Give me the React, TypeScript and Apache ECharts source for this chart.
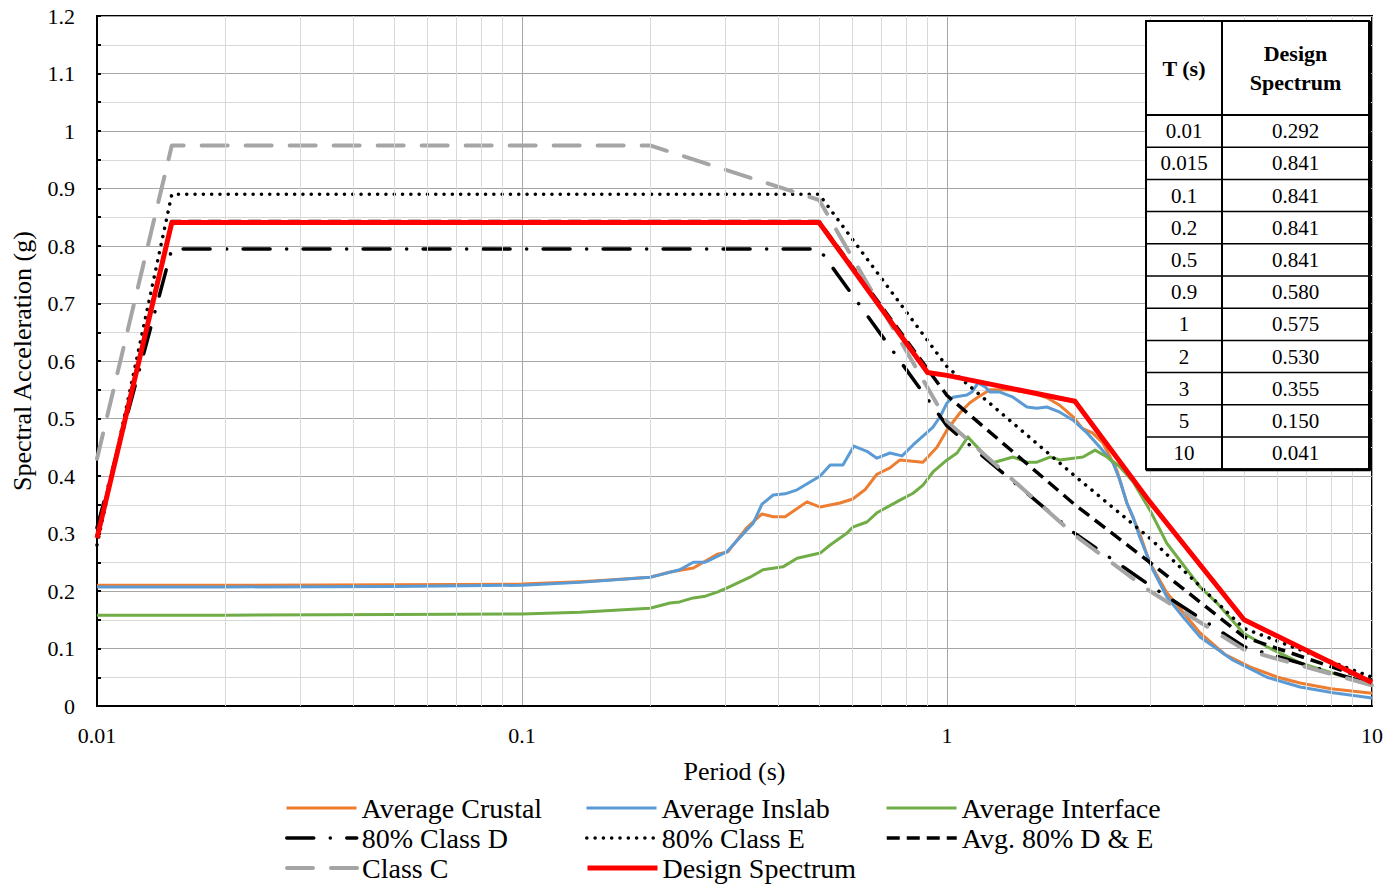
import React, { useEffect, useRef } from "react";
import * as echarts from "echarts";

// ---------- data ----------
const designT = [0.01, 0.015, 0.1, 0.2, 0.5, 0.9, 1, 2, 3, 5, 10];
const designSA = [0.292, 0.841, 0.841, 0.841, 0.841, 0.58, 0.575, 0.53, 0.355, 0.15, 0.041];
const tableT = ["0.01", "0.015", "0.1", "0.2", "0.5", "0.9", "1", "2", "3", "5", "10"];
const tableSA = ["0.292", "0.841", "0.841", "0.841", "0.841", "0.580", "0.575", "0.530", "0.355", "0.150", "0.041"];

const classCT = [0.01, 0.015, 0.2, 0.5, 1, 2, 3, 5, 10];
const classCSA = [0.43, 0.975, 0.975, 0.88, 0.495, 0.297, 0.2, 0.098, 0.036];

const classDT = [0.01, 0.015, 0.5, 1, 2, 3, 5, 10];
const classDSA = [0.31, 0.795, 0.795, 0.487, 0.3, 0.21, 0.103, 0.038];

const classET = [0.01, 0.015, 0.5, 1, 2, 3, 5, 10];
const classESA = [0.28, 0.89, 0.89, 0.59, 0.4, 0.292, 0.135, 0.05];

const avgDET = [0.01, 0.015, 0.5, 1, 2, 3, 5, 10];
const avgDESA = [0.295, 0.8425, 0.8425, 0.54, 0.35, 0.25, 0.12, 0.044];

const crustalT = [0.01, 0.02, 0.05, 0.1, 0.137, 0.16, 0.2, 0.223, 0.253, 0.288, 0.305, 0.338, 0.367, 0.39, 0.416, 0.468, 0.503, 0.56, 0.6, 0.641, 0.684, 0.734, 0.775, 0.878, 0.947, 1.0, 1.073, 1.13, 1.177, 1.262, 1.407, 1.594, 1.718, 1.843, 1.98, 2.08, 2.2, 2.33, 2.51, 2.65, 2.84, 3.0, 3.29, 3.94, 4.5, 5.16, 6.0, 6.77, 8.0, 10];
const crustalSA = [0.21, 0.21, 0.211, 0.212, 0.216, 0.219, 0.224, 0.233, 0.24, 0.264, 0.268, 0.31, 0.334, 0.329, 0.329, 0.355, 0.346, 0.353, 0.36, 0.376, 0.403, 0.414, 0.428, 0.424, 0.45, 0.48, 0.51, 0.527, 0.536, 0.55, 0.55, 0.544, 0.536, 0.523, 0.503, 0.483, 0.475, 0.457, 0.41, 0.353, 0.3, 0.249, 0.197, 0.127, 0.09, 0.068, 0.05, 0.04, 0.03, 0.022];

const inslabT = [0.01, 0.02, 0.05, 0.1, 0.137, 0.2, 0.211, 0.235, 0.253, 0.27, 0.303, 0.338, 0.35, 0.367, 0.39, 0.416, 0.444, 0.503, 0.531, 0.569, 0.604, 0.648, 0.684, 0.734, 0.784, 0.832, 0.927, 0.963, 1.0, 1.033, 1.114, 1.145, 1.183, 1.23, 1.262, 1.332, 1.43, 1.542, 1.628, 1.718, 1.843, 1.98, 2.135, 2.29, 2.458, 2.55, 2.65, 2.74, 2.84, 3.05, 3.29, 3.59, 3.94, 4.7, 5.66, 6.77, 8.1, 10];
const inslabSA = [0.207, 0.207, 0.208, 0.21, 0.215, 0.224, 0.228, 0.237, 0.25, 0.25, 0.268, 0.306, 0.318, 0.351, 0.367, 0.369, 0.376, 0.4, 0.419, 0.419, 0.452, 0.443, 0.431, 0.44, 0.435, 0.454, 0.485, 0.503, 0.527, 0.537, 0.541, 0.546, 0.562, 0.555, 0.546, 0.546, 0.537, 0.52, 0.518, 0.52, 0.511, 0.497, 0.475, 0.45, 0.423, 0.393, 0.353, 0.329, 0.294, 0.237, 0.19, 0.155, 0.12, 0.08, 0.05, 0.033, 0.023, 0.014];

const interfaceT = [0.01, 0.02, 0.05, 0.1, 0.137, 0.2, 0.223, 0.235, 0.253, 0.27, 0.288, 0.303, 0.344, 0.369, 0.411, 0.444, 0.503, 0.531, 0.582, 0.6, 0.648, 0.684, 0.775, 0.832, 0.878, 0.927, 1.0, 1.056, 1.12, 1.196, 1.283, 1.43, 1.542, 1.628, 1.747, 1.843, 2.09, 2.23, 2.38, 2.55, 2.74, 3.0, 3.29, 3.67, 3.94, 4.32, 4.98, 5.66, 6.77, 8.1, 10];
const interfaceSA = [0.158, 0.158, 0.159, 0.16, 0.163, 0.17, 0.179, 0.181, 0.188, 0.191, 0.198, 0.205, 0.224, 0.237, 0.242, 0.257, 0.266, 0.28, 0.301, 0.311, 0.32, 0.336, 0.358, 0.37, 0.384, 0.407, 0.428, 0.44, 0.468, 0.445, 0.423, 0.433, 0.424, 0.424, 0.433, 0.428, 0.433, 0.445, 0.433, 0.416, 0.39, 0.341, 0.283, 0.237, 0.207, 0.179, 0.127, 0.103, 0.075, 0.057, 0.037];

const minorPeriods = [0.02, 0.03, 0.04, 0.05, 0.06, 0.07, 0.08, 0.09, 0.2, 0.3, 0.4, 0.5, 0.6, 0.7, 0.8, 0.9, 2, 3, 4, 5, 6, 7, 8, 9];
const xTickLabels = ["0.01", "0.1", "1", "10"];

// legend grid: rows of names (3 columns)
const legendRows = [
  ["Average Crustal", "Average Inslab", "Average Interface"],
  ["80% Class D", "80% Class E", "Avg. 80% D & E"],
  ["Class C", "Design Spectrum"],
];

const FONT = "'Liberation Serif', 'Times New Roman', serif";

const zip = (t: number[], v: number[]) => t.map((x, i) => [x, v[i]]);

function lineSeries(name: string, t: number[], v: number[], color: string, width: number, type: any, cap: string, z: number) {
  return {
    name,
    type: "line",
    data: zip(t, v),
    symbol: "none",
    z,
    lineStyle: { color, width, type, cap, join: "round" },
    itemStyle: { color },
    emphasis: { disabled: true },
  };
}

export default function App() {
  const ref = useRef<HTMLDivElement>(null);
  useEffect(() => {
    if (!ref.current) return;
    const chart = echarts.init(ref.current, undefined, { renderer: "svg" });

    // table layout
    const x0 = 1146, x1 = 1222, x2 = 1369, y0 = 21, yh = 115, rowH = 32.2;
    const yEnd = yh + rowH * tableT.length;
    const Z = 100;
    const tableEls: any[] = [];
    tableEls.push({ type: "rect", z: Z, shape: { x: x0, y: y0, width: x2 - x0, height: yEnd - y0 }, style: { fill: "#fff", stroke: "#000", lineWidth: 2 } });
    tableEls.push({ type: "line", z: Z + 1, shape: { x1: x2 + 0.5, y1: y0, x2: x2 + 0.5, y2: yEnd + 1.5 }, style: { stroke: "#000", lineWidth: 3 } });
    tableEls.push({ type: "line", z: Z + 1, shape: { x1: x0, y1: yEnd + 0.5, x2: x2 + 1.5, y2: yEnd + 0.5 }, style: { stroke: "#000", lineWidth: 3 } });
    tableEls.push({ type: "line", z: Z + 1, shape: { x1: x1, y1: y0, x2: x1, y2: yEnd }, style: { stroke: "#000", lineWidth: 2 } });
    tableEls.push({ type: "line", z: Z + 1, shape: { x1: x0, y1: yh, x2: x2, y2: yh }, style: { stroke: "#000", lineWidth: 2 } });
    for (let i = 1; i < tableT.length; i++) {
      const yy = yh + rowH * i;
      tableEls.push({ type: "line", z: Z + 1, shape: { x1: x0, y1: yy, x2: x2, y2: yy }, style: { stroke: "#000", lineWidth: 1.5 } });
    }
    tableEls.push({ type: "text", z: Z + 2, x: (x0 + x1) / 2, y: (y0 + yh) / 2, style: { text: "T (s)", font: `bold 22px ${FONT}`, fill: "#000", align: "center", verticalAlign: "middle" } });
    tableEls.push({ type: "text", z: Z + 2, x: (x1 + x2) / 2, y: (y0 + yh) / 2, style: { text: "Design\nSpectrum", font: `bold 22px ${FONT}`, lineHeight: 29, fill: "#000", align: "center", verticalAlign: "middle" } });
    tableT.forEach((t, i) => {
      const cy = yh + rowH * (i + 0.5);
      tableEls.push({ type: "text", z: Z + 2, x: (x0 + x1) / 2, y: cy, style: { text: t, font: `21px ${FONT}`, fill: "#000", align: "center", verticalAlign: "middle" } });
      tableEls.push({ type: "text", z: Z + 2, x: (x1 + x2) / 2, y: cy, style: { text: tableSA[i], font: `21px ${FONT}`, fill: "#000", align: "center", verticalAlign: "middle" } });
    });

    const legends: any[] = [];
    legendRows.forEach((row, r) => {
      row.forEach((name, c) => {
        legends.push({
          orient: "horizontal",
          left: 285 + c * 300,
          top: 793 + r * 30,
          padding: 0,
          itemWidth: 70,
          itemHeight: 14,
          itemGap: 0,
          selectedMode: false,
          data: [name],
          textStyle: { fontFamily: FONT, fontSize: 28, lineHeight: 30, color: "#000" },
          lineStyle: { width: "inherit" },
          itemStyle: { opacity: 0 },
        });
      });
    });

    const option: any = {
      animation: false,
      backgroundColor: "#fff",
      textStyle: { fontFamily: FONT },
      grid: { left: 97, right: 19, top: 16, bottom: 179, show: true, borderColor: "#000", borderWidth: 2, backgroundColor: "transparent" },
      xAxis: {
        type: "log",
        logBase: 10,
        min: 0.01,
        max: 10,
        name: "Period (s)",
        nameLocation: "middle",
        nameGap: 52,
        nameTextStyle: { fontFamily: FONT, fontSize: 26, color: "#000" },
        axisLine: { lineStyle: { color: "#000", width: 2 } },
        axisTick: { show: false },
        axisLabel: {
          fontFamily: FONT,
          fontSize: 22,
          color: "#000",
          margin: 18,
          formatter: (v: number) => xTickLabels[Math.round(Math.log10(v)) + 2] ?? String(v),
        },
        splitLine: { show: true, lineStyle: { color: "#a6a6a6", width: 1 } },
      },
      yAxis: {
        type: "value",
        min: 0,
        max: 1.2,
        interval: 0.1,
        name: "Spectral Acceleration (g)",
        nameLocation: "middle",
        nameGap: 62,
        nameTextStyle: { fontFamily: FONT, fontSize: 26, color: "#000" },
        axisLine: { show: true, lineStyle: { color: "#000", width: 2 } },
        axisTick: { show: true, inside: true, length: 4, lineStyle: { color: "#000", width: 2 } },
        minorTick: { show: true, splitNumber: 2, length: 4, lineStyle: { color: "#000", width: 2 } },
        minorSplitLine: { show: true, lineStyle: { color: "#d9d9d9", width: 1 } },
        splitLine: { show: true, lineStyle: { color: "#a6a6a6", width: 1 } },
        axisLabel: {
          fontFamily: FONT,
          fontSize: 22,
          color: "#000",
          margin: 22,
          formatter: (v: number) => String(Number(v.toFixed(2))),
        },
      },
      legend: legends,
      series: [
        {
          name: "minor-grid",
          type: "line",
          data: [],
          z: 1,
          silent: true,
          markLine: {
            silent: true,
            symbol: ["none", "none"],
            label: { show: false },
            lineStyle: { color: "#d9d9d9", width: 1, type: "solid" },
            emphasis: { disabled: true },
            data: minorPeriods.map((p) => ({ xAxis: p })),
          },
        },
        lineSeries("Average Crustal", crustalT, crustalSA, "#ED7D31", 3, "solid", "butt", 3),
        lineSeries("Average Inslab", inslabT, inslabSA, "#5B9BD5", 3, "solid", "butt", 3),
        lineSeries("Average Interface", interfaceT, interfaceSA, "#70AD47", 3, "solid", "butt", 3),
        lineSeries("80% Class D", classDT, classDSA, "#000000", 3.5, [27, 16.5, 0.1, 16.4], "round", 4),
        lineSeries("80% Class E", classET, classESA, "#000000", 3.5, [0.1, 8.2], "round", 4),
        lineSeries("Avg. 80% D & E", avgDET, avgDESA, "#000000", 3.5, [13, 7], "butt", 4),
        lineSeries("Class C", classCT, classCSA, "#A5A5A5", 4, [26, 18], "round", 4),
        lineSeries("Design Spectrum", designT, designSA, "#FF0000", 5, "solid", "butt", 5),
      ],
      graphic: tableEls,
    };
    chart.setOption(option);
    return () => chart.dispose();
  }, []);
  return <div ref={ref} style={{ position: "absolute", left: 0, top: 0, width: 1391, height: 885, background: "#fff" }} />;
}
